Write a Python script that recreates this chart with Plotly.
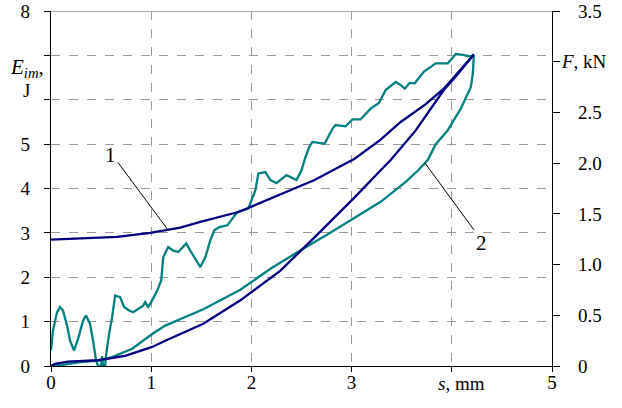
import plotly.graph_objects as go

# Curve 2 (teal), upper noisy branch
teal_up_x = [0.00, 0.02, 0.06, 0.09, 0.12, 0.16, 0.19, 0.23, 0.27, 0.32, 0.35, 0.39, 0.42, 0.45, 0.47, 0.50,
             0.51, 0.52, 0.54, 0.55, 0.58, 0.61, 0.64, 0.69, 0.73, 0.78, 0.82, 0.87, 0.92, 0.94, 0.97, 1.01,
             1.06, 1.10, 1.12, 1.17, 1.22, 1.27, 1.30, 1.35, 1.39, 1.44, 1.49, 1.54, 1.59, 1.63, 1.68, 1.76,
             1.82, 1.86, 1.97, 2.04, 2.07, 2.14, 2.19, 2.25, 2.35, 2.45, 2.50, 2.54, 2.58, 2.61, 2.73, 2.81,
             2.84, 2.94, 3.01, 3.09, 3.19, 3.27, 3.34, 3.44, 3.49, 3.53, 3.58, 3.63, 3.72, 3.84, 3.96, 4.02,
             4.04, 4.11, 4.19, 4.22]
teal_up_y = [0.35, 0.80, 1.21, 1.33, 1.25, 0.91, 0.57, 0.35, 0.61, 1.02, 1.14, 0.95, 0.57, 0.12, 0.00, 0.00,
             0.22, 0.00, 0.00, 0.25, 0.72, 1.10, 1.59, 1.55, 1.33, 1.25, 1.21, 1.29, 1.36, 1.44, 1.33, 1.48,
             1.70, 1.93, 2.45, 2.68, 2.60, 2.57, 2.64, 2.76, 2.60, 2.42, 2.23, 2.45, 2.83, 3.06, 3.13, 3.17,
             3.36, 3.47, 3.55, 3.96, 4.34, 4.37, 4.19, 4.12, 4.30, 4.19, 4.41, 4.71, 4.95, 5.05, 5.01, 5.35,
             5.43, 5.40, 5.56, 5.56, 5.80, 5.92, 6.22, 6.40, 6.33, 6.25, 6.38, 6.37, 6.63, 6.82, 6.82, 6.97,
             7.03, 7.01, 6.97, 7.02]

# Curve 2 (teal), lower branch
teal_lo_x = [4.22, 4.21, 4.19, 4.14, 4.09, 4.02, 3.96, 3.84, 3.76, 3.66, 3.54, 3.29, 2.99, 2.75, 2.52, 2.19,
             1.89, 1.52, 1.14, 1.01, 0.81, 0.61, 0.47, 0.27, 0.10, 0.00]
teal_lo_y = [7.00, 6.59, 6.29, 6.03, 5.80, 5.54, 5.31, 5.00, 4.64, 4.40, 4.15, 3.70, 3.28, 2.95, 2.65, 2.19,
             1.72, 1.28, 0.91, 0.72, 0.39, 0.20, 0.12, 0.08, 0.02, 0.00]

# Curve 1 (navy), upper branch
navy_up_x = [0.00, 0.39, 0.66, 0.99, 1.16, 1.29, 1.49, 1.87, 1.99, 2.32, 2.63, 3.03, 3.29, 3.49, 3.74, 3.92, 4.04, 4.22]
navy_up_y = [2.85, 2.88, 2.91, 3.00, 3.06, 3.12, 3.25, 3.47, 3.58, 3.90, 4.19, 4.67, 5.10, 5.50, 5.90, 6.25, 6.55, 7.02]

# Curve 1 (navy), lower branch
navy_lo_x = [0.00, 0.04, 0.17, 0.47, 0.74, 1.01, 1.14, 1.52, 1.89, 2.29, 2.63, 3.03, 3.29, 3.39, 3.64, 3.92, 4.05, 4.22]
navy_lo_y = [0.00, 0.05, 0.10, 0.13, 0.23, 0.43, 0.57, 0.95, 1.48, 2.15, 2.90, 3.80, 4.41, 4.64, 5.31, 6.22, 6.55, 7.02]

x_ticks = [0, 1, 2, 3, 4, 5]
x_ticktext = ["0", "1", "2", "3", "", "5"]
y_ticks = [0, 1, 2, 3, 4, 5, 6, 7, 8]
y_ticktext = ["0", "1", "2", "3", "4", "5", "", "", "8"]
y2_ticks = [0, 0.5, 1.0, 1.5, 2.0, 2.5, 3.0, 3.5]
y2_ticktext = ["0", "0.5", "1.0", "1.5", "2.0", "2.5", "", "3.5"]

NAVY = "#000080"
TEAL = "#008080"
FONT = "Liberation Serif, Times New Roman, Times, serif"

fig = go.Figure()
fig.add_trace(go.Scatter(x=teal_up_x, y=teal_up_y, mode="lines", line=dict(color=TEAL, width=2.3), showlegend=False))
fig.add_trace(go.Scatter(x=teal_lo_x, y=teal_lo_y, mode="lines", line=dict(color=TEAL, width=2.3), showlegend=False))
fig.add_trace(go.Scatter(x=navy_up_x, y=navy_up_y, mode="lines", line=dict(color=NAVY, width=2.3), showlegend=False))
fig.add_trace(go.Scatter(x=navy_lo_x, y=navy_lo_y, mode="lines", line=dict(color=NAVY, width=2.3), showlegend=False))
fig.add_trace(go.Scatter(x=[0], y=[0], yaxis="y2", mode="lines", line=dict(width=0), showlegend=False, hoverinfo="skip"))

axis_font = dict(family=FONT, size=19, color="black")

fig.update_layout(
    width=622, height=408,
    margin=dict(l=51, r=70, t=11, b=42),
    paper_bgcolor="white", plot_bgcolor="white",
    font=axis_font,
    xaxis=dict(range=[0, 5], tickvals=x_ticks, ticktext=x_ticktext, showline=True, linecolor="black", linewidth=1.3,
               ticks="outside", ticklen=5, tickcolor="black", showgrid=True, gridcolor="#999999", griddash="dash",
               gridwidth=1, zeroline=False, tickfont=axis_font, ticklabelstandoff=-6, automargin=False),
    yaxis=dict(range=[0, 8], tickvals=y_ticks, ticktext=y_ticktext, showline=True, linecolor="black", linewidth=1.3,
               ticks="outside", ticklen=6, tickcolor="black", showgrid=True, gridcolor="#999999", griddash="dash",
               gridwidth=1, zeroline=False, tickfont=axis_font, ticklabelstandoff=10, automargin=False),
    yaxis2=dict(range=[0, 3.5], tickvals=y2_ticks, ticktext=y2_ticktext, overlaying="y", side="right",
                showline=True, linecolor="black", linewidth=1.3, ticks="outside", ticklen=7, tickcolor="black",
                showgrid=False, zeroline=False, tickfont=axis_font, ticklabelstandoff=14, automargin=False),
)

# top border
fig.add_shape(type="line", xref="x", yref="y", x0=0, x1=5, y0=8, y1=8, line=dict(color="#8c8c8c", width=1.5))

# leader lines for curve labels
fig.add_shape(type="line", xref="x", yref="y", x0=0.67, y0=4.58, x1=1.17, y1=3.06, line=dict(color="black", width=1))
fig.add_shape(type="line", xref="x", yref="y", x0=4.22, y0=3.07, x1=3.73, y1=4.58, line=dict(color="black", width=1))

fig.add_annotation(x=0.59, y=4.75, xref="x", yref="y", text="1", showarrow=False, font=dict(family=FONT, size=21))
fig.add_annotation(x=4.30, y=2.78, xref="x", yref="y", text="2", showarrow=False, font=dict(family=FONT, size=21))

# axis titles
fig.add_annotation(x=4.1, y=-0.048, xref="x", yref="paper", xanchor="center", yanchor="middle",
                   text="<i>s</i>, mm", showarrow=False, font=axis_font)
fig.add_annotation(x=-0.048, y=6.72, xref="paper", yref="y", xanchor="center", yanchor="middle",
                   text="<i>E<sub>im</sub></i>,", showarrow=False, font=dict(family=FONT, size=21, color="black"))
fig.add_annotation(x=-0.048, y=6.2, xref="paper", yref="y", xanchor="center", yanchor="middle",
                   text="J", showarrow=False, font=axis_font)
fig.add_annotation(x=1.014, y=3.0, xref="paper", yref="y2", xanchor="left", yanchor="middle",
                   text="<i>F</i>, kN", showarrow=False, font=axis_font)

fig.write_html("out.html", config={"displayModeBar": False},
               post_script="document.body.style.margin='0px';")
